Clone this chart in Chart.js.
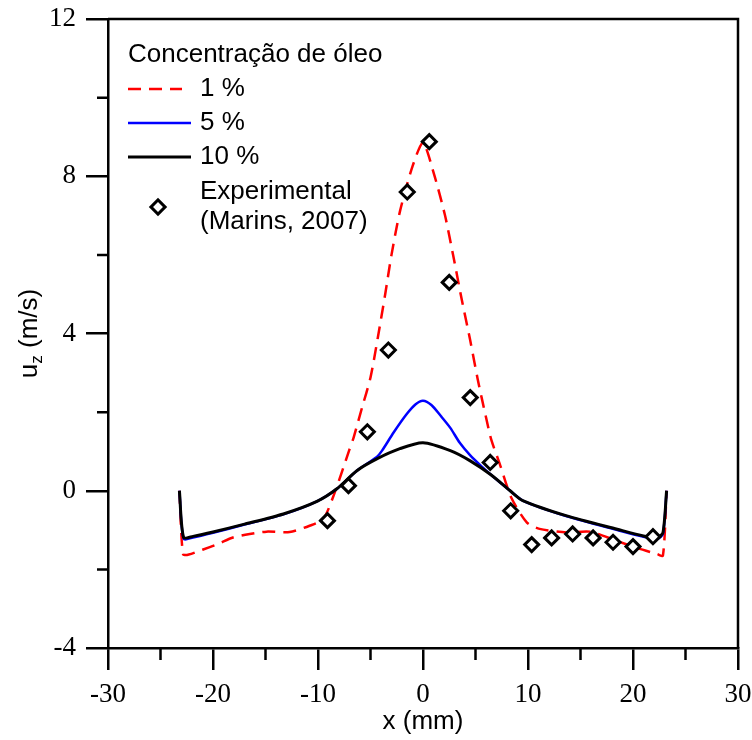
<!DOCTYPE html>
<html>
<head>
<meta charset="utf-8">
<script src="https://cdn.jsdelivr.net/npm/chart.js@4/dist/chart.umd.min.js"></script>
<style>
  html, body { margin: 0; padding: 0; background: #fff; }
  #wrap { width: 752px; height: 740px; }
</style>
</head>
<body>
<div id="wrap"><canvas id="chart" width="752" height="740"></canvas></div>
<script>
// dados
const xRed = [-23.2, -22.85, -22.3, -21, -19.5, -18.1, -16.5, -14.9, -12.7, -10.8, -9.5, -8.4, -7, -6.6, -5.8, -5.0, -4.3, -3.6, -3.0, -2.2, -1, 0, 1, 2.1, 2.9, 3.7, 4.5, 5.2, 5.6, 6.1, 6.5, 7.3, 8.4, 9.9, 11.1, 13.7, 15.9, 18.4, 20.3, 22.3, 22.85, 23.2];
const yRed = [0, -1.62, -1.62, -1.5, -1.35, -1.19, -1.1, -1.04, -1.05, -0.89, -0.72, -0.04, 1.05, 1.36, 2.12, 2.88, 3.9, 5.0, 6.0, 7.1, 8.25, 8.85, 8.1, 7.0, 5.95, 4.85, 3.82, 2.85, 2.35, 1.75, 1.3, 0.69, -0.17, -0.81, -0.97, -1.06, -1.04, -1.27, -1.45, -1.61, -1.65, 0];

const xBlue = [-23.2, -22.8, -21.9, -20, -17, -13.3, -10.1, -8.2, -6.3, -4.4, -3.9, -2.8, -1.55, -0.7, 0, 0.8, 1.7, 2.6, 3.5, 4.5, 5.5, 6.5, 8.3, 9.5, 13.7, 18.5, 21, 22.3, 22.85, 23.2];
const yBlue = [0, -1.22, -1.19, -1.07, -0.86, -0.6, -0.27, 0.05, 0.51, 0.86, 1.02, 1.48, 1.95, 2.2, 2.29, 2.18, 1.9, 1.6, 1.22, 0.9, 0.64, 0.4, 0.0, -0.25, -0.65, -1.0, -1.17, -1.22, -1.1, 0];

const xBlack = [-23.2, -22.8, -21.9, -20, -17, -13.3, -10.1, -8.2, -6.3, -4.4, -2.2, 0, 2.6, 4.5, 6.5, 8.3, 9.5, 13.7, 18.5, 21, 22.3, 22.85, 23.2];
const yBlack = [0, -1.19, -1.16, -1.05, -0.85, -0.59, -0.27, 0.05, 0.51, 0.81, 1.07, 1.22, 1.02, 0.76, 0.4, 0.0, -0.25, -0.64, -0.98, -1.15, -1.19, -1.07, 0];

const xExp = [-9.1, -7.1, -5.3, -3.3, -1.5, 0.6, 2.5, 4.5, 6.4, 8.35, 10.35, 12.25, 14.25, 16.2, 18.1, 20.0, 21.9];
const yExp = [-0.76, 0.13, 1.5, 3.58, 7.6, 8.88, 5.3, 2.37, 0.72, -0.51, -1.37, -1.2, -1.1, -1.2, -1.31, -1.42, -1.17];

const xTicks = [-30, -20, -10, 0, 10, 20, 30];
const xMinor = [-25, -15, -5, 5, 15, 25];
const yTicks = [-4, 0, 4, 8, 12];
const yMinor = [-2, 2, 6, 10];

const legendTitle = 'Concentração de óleo';
const legendLabels = ['1 %', '5 %', '10 %', 'Experimental', '(Marins, 2007)'];

const SANS = '"Liberation Sans", Arial, sans-serif';
const SERIF = '"Liberation Serif", "Times New Roman", serif';

function pts(xs, ys) {
  return xs.map(function (x, i) { return { x: x, y: ys[i] }; });
}

// moldura, ticks menores, títulos dos eixos e legenda
const decor = {
  id: 'decor',
  afterDraw: function (chart) {
    const ctx = chart.ctx;
    const a = chart.chartArea;
    const sx = chart.scales.x;
    const sy = chart.scales.y;
    ctx.save();
    ctx.strokeStyle = '#000';
    ctx.lineWidth = 2.5;
    ctx.beginPath();
    ctx.moveTo(a.left, a.top);
    ctx.lineTo(a.right, a.top);
    ctx.lineTo(a.right, a.bottom);
    ctx.stroke();

    ctx.beginPath();
    xMinor.forEach(function (v) {
      const px = sx.getPixelForValue(v);
      ctx.moveTo(px, a.bottom);
      ctx.lineTo(px, a.bottom + 12);
    });
    yMinor.forEach(function (v) {
      const py = sy.getPixelForValue(v);
      ctx.moveTo(a.left, py);
      ctx.lineTo(a.left - 11, py);
    });
    ctx.stroke();

    // título eixo x
    ctx.fillStyle = '#000';
    ctx.font = '26px ' + SANS;
    ctx.textAlign = 'center';
    ctx.textBaseline = 'middle';
    ctx.fillText('x (mm)', (a.left + a.right) / 2, 722);

    // título eixo y com subscrito
    ctx.save();
    ctx.translate(37, (a.top + a.bottom) / 2);
    ctx.rotate(-Math.PI / 2);
    ctx.textAlign = 'left';
    ctx.textBaseline = 'alphabetic';
    const f1 = '26px ' + SANS, f2 = '17px ' + SANS;
    ctx.font = f1; const wu = ctx.measureText('u').width;
    ctx.font = f2; const wz = ctx.measureText('z').width;
    ctx.font = f1; const wr = ctx.measureText(' (m/s)').width;
    let x0 = -(wu + wz + wr) / 2;
    ctx.fillText('u', x0, 0);
    ctx.font = f2; ctx.fillText('z', x0 + wu, 5);
    ctx.font = f1; ctx.fillText(' (m/s)', x0 + wu + wz, 0);
    ctx.restore();

    // legenda
    const ds = chart.data.datasets;
    ctx.font = '26px ' + SANS;
    ctx.textAlign = 'left';
    ctx.textBaseline = 'middle';
    ctx.fillText(legendTitle, 128, 55);
    const rows = [89, 123, 157];
    [0, 1, 2].forEach(function (di, i) {
      const d = ds[di];
      ctx.save();
      ctx.strokeStyle = d.borderColor;
      ctx.lineWidth = d.borderWidth;
      ctx.setLineDash(d.borderDash || []);
      ctx.beginPath();
      ctx.moveTo(128, rows[i]);
      ctx.lineTo(d.borderDash ? 182 : 191, rows[i]);
      ctx.stroke();
      ctx.restore();
      ctx.fillText(legendLabels[i], 200, rows[i]);
    });
    const e = ds[3];
    ctx.save();
    ctx.translate(158, 207);
    ctx.rotate(Math.PI / 4);
    ctx.fillStyle = '#fff';
    ctx.strokeStyle = e.borderColor;
    ctx.lineWidth = 3;
    ctx.fillRect(-5, -5, 10, 10);
    ctx.strokeRect(-5, -5, 10, 10);
    ctx.restore();
    ctx.fillText(legendLabels[3], 200, 192);
    ctx.fillText(legendLabels[4], 200, 222);
    ctx.restore();
  }
};

new Chart(document.getElementById('chart'), {
  type: 'scatter',
  data: {
    datasets: [
      {
        label: '1 %',
        data: pts(xRed, yRed),
        showLine: true,
        borderColor: '#ff0000',
        borderWidth: 2.5,
        borderDash: [13, 8],
        pointRadius: 0,
        tension: 0.25,
        order: 3
      },
      {
        label: '5 %',
        data: pts(xBlue, yBlue),
        showLine: true,
        borderColor: '#0000ff',
        borderWidth: 2.5,
        pointRadius: 0,
        tension: 0.25,
        order: 2
      },
      {
        label: '10 %',
        data: pts(xBlack, yBlack),
        showLine: true,
        borderColor: '#000000',
        borderWidth: 3,
        pointRadius: 0,
        tension: 0.25,
        order: 1
      },
      {
        label: 'Experimental (Marins, 2007)',
        data: pts(xExp, yExp),
        showLine: false,
        pointStyle: 'rectRot',
        pointRadius: 7,
        pointBorderWidth: 3,
        borderColor: '#000000',
        backgroundColor: '#ffffff',
        order: 0
      }
    ]
  },
  options: {
    responsive: false,
    animation: false,
    layout: { padding: { top: 19, right: 14, left: 0, bottom: 0 } },
    plugins: {
      legend: { display: false },
      tooltip: { enabled: false }
    },
    scales: {
      x: {
        type: 'linear',
        min: -30,
        max: 30,
        afterBuildTicks: function (s) { s.ticks = xTicks.map(function (v) { return { value: v }; }); },
        afterFit: function (s) { s.height = 92; s.paddingLeft = 0; s.paddingRight = 0; },
        ticks: { color: '#000', font: { family: SERIF, size: 27 }, padding: 9, maxRotation: 0 },
        grid: { drawOnChartArea: false, tickLength: 22, lineWidth: 2.5, color: '#000' },
        border: { color: '#000', width: 2.5 }
      },
      y: {
        type: 'linear',
        min: -4,
        max: 12,
        afterBuildTicks: function (s) { s.ticks = yTicks.map(function (v) { return { value: v }; }); },
        afterFit: function (s) { s.width = 108; s.paddingTop = 0; s.paddingBottom = 0; },
        ticks: { color: '#000', font: { family: SERIF, size: 27 }, padding: 10 },
        grid: { drawOnChartArea: false, tickLength: 22, lineWidth: 2.5, color: '#000' },
        border: { color: '#000', width: 2.5 }
      }
    }
  },
  plugins: [decor]
});
</script>
</body>
</html>
